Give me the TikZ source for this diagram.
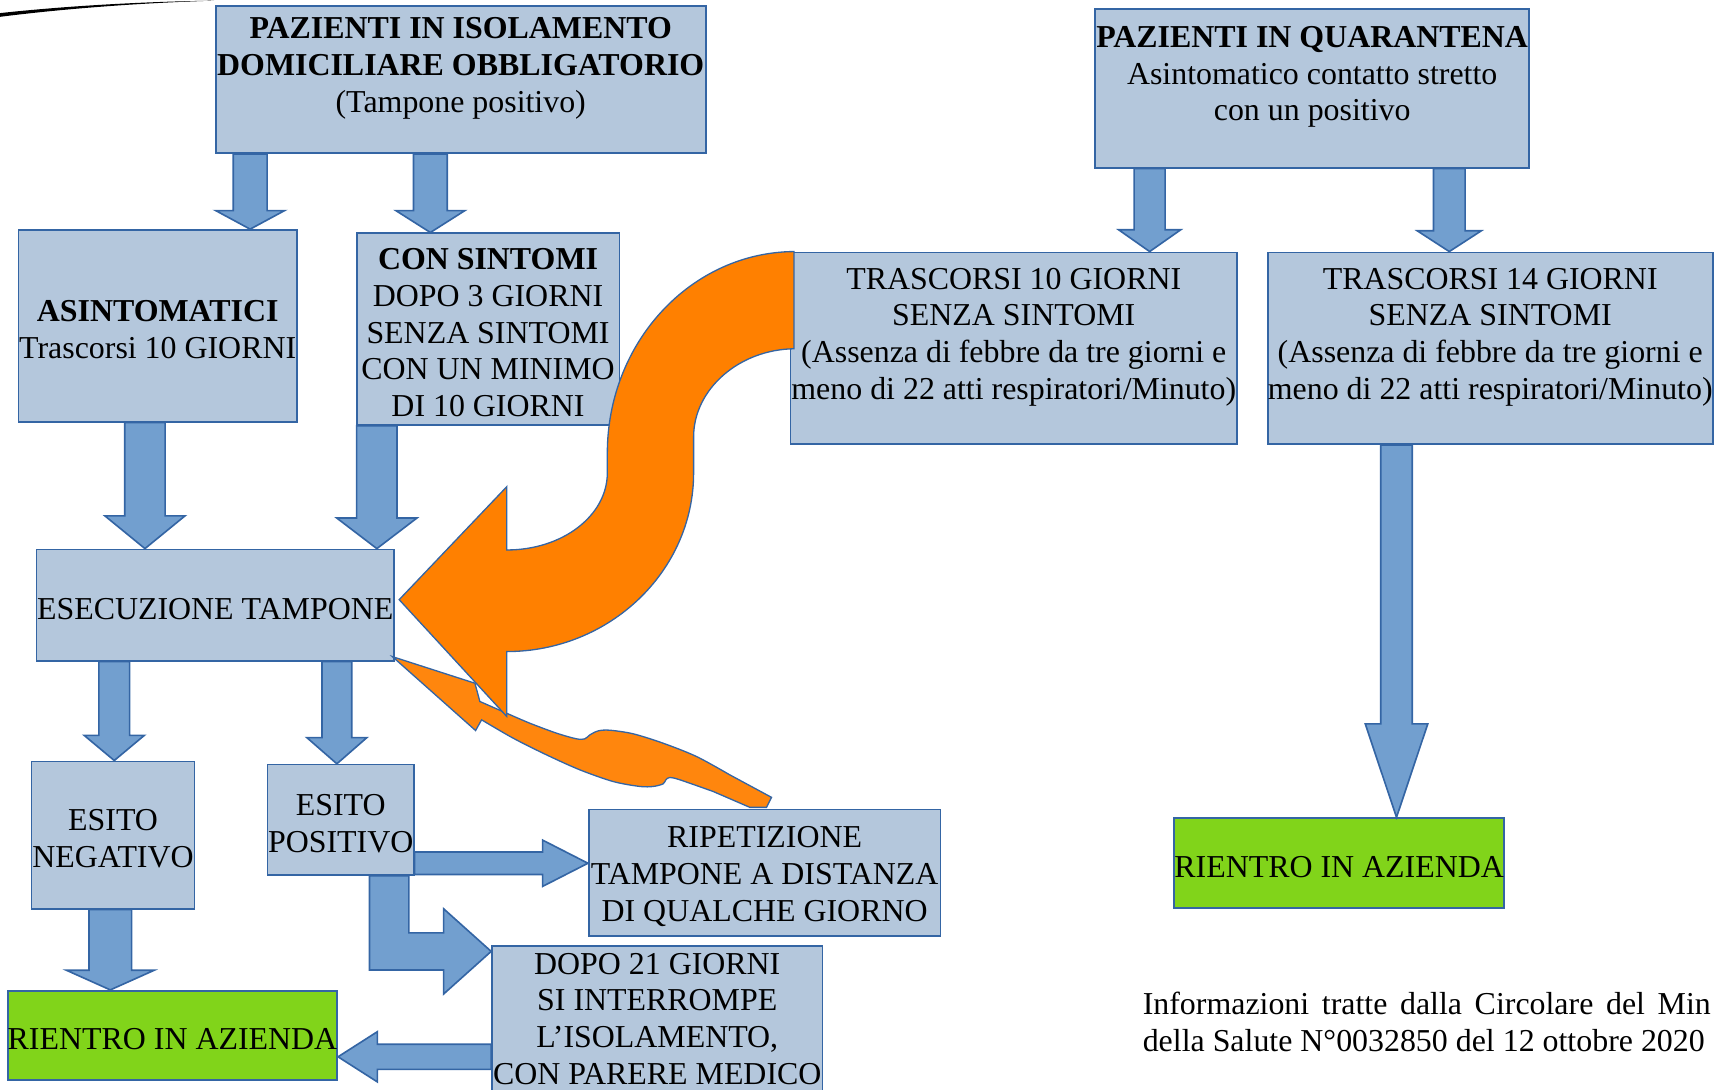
\documentclass[tikz,border=0pt]{standalone}
\usepackage{fontspec}
\setmainfont{Liberation Serif}
\usetikzlibrary{calc}

\definecolor{boxfill}{HTML}{B4C7DC}
\definecolor{boxline}{HTML}{3465A4}
\definecolor{arrowfill}{HTML}{729FCF}
\definecolor{okgreen}{HTML}{81D41A}
\definecolor{curlorange}{HTML}{FF8000}
\definecolor{backorange}{HTML}{FF860D}

\newcommand{\tstrut}{\rule{0pt}{26pt}}

% block arrows: from, to, half shaft, half head, head length
\newcommand{\blkdown}[5]{%
  \draw[blkarrow] let \p1=#1, \p2=#2 in
    (\x1-#3,\y1) -- (\x1-#3,\y2+#5) -- (\x1-#4,\y2+#5) -- (\x2,\y2)
    -- (\x1+#4,\y2+#5) -- (\x1+#3,\y2+#5) -- (\x1+#3,\y1) -- cycle;}
\newcommand{\blkright}[5]{%
  \draw[blkarrow] let \p1=#1, \p2=#2 in
    (\x1,\y1-#3) -- (\x2-#5,\y1-#3) -- (\x2-#5,\y1-#4) -- (\x2,\y2)
    -- (\x2-#5,\y1+#4) -- (\x2-#5,\y1+#3) -- (\x1,\y1+#3) -- cycle;}
\newcommand{\blkleft}[5]{%
  \draw[blkarrow] let \p1=#1, \p2=#2 in
    (\x1,\y1-#3) -- (\x2+#5,\y1-#3) -- (\x2+#5,\y1-#4) -- (\x2,\y2)
    -- (\x2+#5,\y1+#4) -- (\x2+#5,\y1+#3) -- (\x1,\y1+#3) -- cycle;}

\begin{document}
\begin{tikzpicture}[x=1pt,y=-1pt,
  box/.style={draw=boxline,fill=boxfill,line width=1.5pt,inner sep=0pt,align=center,
    font=\fontsize{29.2}{33.6}\selectfont},
  rientro/.style={box,fill=okgreen},
  blkarrow/.style={draw=boxline,fill=arrowfill,line width=1.5pt},
  curl/.style={draw=boxline,fill=curlorange,line width=1.2pt,line join=miter}]

\clip (0,0) rectangle (1571,997.7);

\fill (0,12) .. controls (60,5.5) and (130,1.5) .. (196,0.6)
  .. controls (130,2.6) and (60,7.8) .. (0,15.4) -- cycle;

\node[box,minimum width=448.5,minimum height=135] (isol) at (421.8,72.8)
  {\tstrut\textbf{PAZIENTI IN ISOLAMENTO}\\ \textbf{DOMICILIARE OBBLIGATORIO}\\ (Tampone positivo)\\ ~};
\node[box,minimum width=397.4,minimum height=145.3] (quar) at (1201.3,80.9)
  {\tstrut\textbf{PAZIENTI IN QUARANTENA}\\ Asintomatico contatto stretto\\ con un positivo\\ ~};

\node[box,minimum width=255,minimum height=175.5] (asin) at (144.4,298.3)
  {\tstrut\textbf{ASINTOMATICI}\\ Trascorsi 10 GIORNI};
\node[box,minimum width=240.5,minimum height=175.4] (consin) at (446.8,301.3)
  {\tstrut\textbf{CON SINTOMI}\\ DOPO 3 GIORNI\\ SENZA SINTOMI\\ CON UN MINIMO\\ DI 10 GIORNI};
\node[box,minimum width=409,minimum height=175.7] (tr10) at (928.1,318.9)
  {\tstrut TRASCORSI 10 GIORNI\\ SENZA SINTOMI\\ (Assenza di febbre da tre giorni e\\ meno di 22 atti respiratori/Minuto)\\ ~};
\node[box,minimum width=407.4,minimum height=175.7] (tr14) [right of=tr10,node distance=436.2pt]
  {\tstrut TRASCORSI 14 GIORNI\\ SENZA SINTOMI\\ (Assenza di febbre da tre giorni e\\ meno di 22 atti respiratori/Minuto)\\ ~};

\node[box,minimum width=327.4,minimum height=102] (esec) at (197,554) {\tstrut ESECUZIONE TAMPONE};
\node[box,minimum width=149,minimum height=135] (neg) at (103.5,764.5) {\tstrut ESITO\\ NEGATIVO};
\node[box,minimum width=133.8,minimum height=101] (pos) at (311.9,750.5) {\tstrut ESITO\\ POSITIVO};
\node[box,minimum width=322,minimum height=116] (rip) at (700,799)
  {\tstrut RIPETIZIONE\\ TAMPONE A DISTANZA\\ DI QUALCHE GIORNO};
\node[box,minimum width=302.6,minimum height=133.5] (dopo) at (601.7,932.7)
  {DOPO 21 GIORNI\\ SI INTERROMPE\\ L’ISOLAMENTO,\\ CON PARERE MEDICO};

\node[rientro,minimum width=301.4,minimum height=82] (rientroA) at (157.9,948) {\tstrut RIENTRO IN AZIENDA};
\node[rientro,minimum width=302,minimum height=82.4] (rientroB) at (1226,790.2) {\tstrut RIENTRO IN AZIENDA};

\node[anchor=west,align=left,inner sep=0pt,font=\fontsize{29.2}{33.5}\selectfont] (fonte) at (1046,935.6)
  {\makebox[520pt][s]{Informazioni tratte dalla Circolare del Min}\\
   della Salute N°0032850 del 12 ottobre 2020};

% blue block arrows
\blkdown{(229,0 |- isol.south)}{(229,0 |- asin.north)}{15.5pt}{31.5pt}{17pt}
\blkdown{(394,0 |- isol.south)}{(394,0 |- consin.north)}{15.5pt}{31.5pt}{20pt}
\blkdown{(1052.5,0 |- quar.south)}{(1052.5,0 |- tr10.north)}{14.2pt}{28.5pt}{20pt}
\blkdown{(1326.8,0 |- quar.south)}{(1326.8,0 |- tr14.north)}{14.5pt}{29.3pt}{19pt}
\blkdown{(132.7,0 |- asin.south)}{(132.7,0 |- esec.north)}{18.5pt}{36.7pt}{30pt}
\blkdown{(345,0 |- consin.south)}{(345,0 |- esec.north)}{18.5pt}{36.7pt}{28pt}
\blkdown{(104.6,0 |- esec.south)}{(104.6,0 |- neg.north)}{14.1pt}{27.5pt}{23pt}
\blkdown{(308.4,0 |- esec.south)}{(308.4,0 |- pos.north)}{13.6pt}{27.5pt}{24pt}
\blkdown{(101,0 |- neg.south)}{(101,0 |- rientroA.north)}{19.5pt}{40.2pt}{18pt}
\blkdown{(1278.5,0 |- tr14.south)}{(1278.5,0 |- rientroB.north)}{14.4pt}{28.6pt}{85.5pt}
\blkright{(pos.east |- 0,790.3)}{(rip.west |- 0,790.3)}{10.3pt}{21.2pt}{41.5pt}
\blkleft{(dopo.west |- 0,967.5)}{(rientroA.east |- 0,967.5)}{11.5pt}{23pt}{36pt}
\draw[blkarrow] let \p1=(356.3,0 |- pos.south), \p2=(dopo.west |- 0,871) in
  (\x1-18pt,\y1) -- (\x1-18pt,\y2-17pt) -- (\x2-43.5pt,\y2-17pt) -- (\x2-43.5pt,\y2-39pt)
  -- (\x2,\y2) -- (\x2-43.5pt,\y2+39pt) -- (\x2-43.5pt,\y2+17pt) -- (\x1+18pt,\y2+17pt)
  -- (\x1+18pt,\y1) -- cycle;

% orange arrow back from the repeated swab
\draw[curl,fill=backorange] ($(esec.south east)+(-2.2,-4.6)$) -- (434.8,625.5) -- (439.3,642.2)
  -- plot[smooth,tension=0.5] coordinates {(439.3,642.2) (463.7,652.9) (485.1,662.1) (509.5,671.2)
     (527.8,676.4) (535.4,676.4) (540,672.8) (547.7,669.1) (558.3,668.5) (579.7,671.8)
     (607.1,680.4) (637.7,692.6) (668.2,709.4)}
  -- ($(rip.north)+(6.3,-10.3)$) -- ($(rip.north)+(1.7,-1.1)$) -- ($(rip.north)+(-13.5,-1.1)$)
  -- plot[smooth,tension=0.5] coordinates {(652.9,724.6) (622.4,713.9) (613.2,711.8) (609.6,713.9)
     (607.1,717.6) (598,720) (585.8,720) (561.4,715.5) (530.9,704.8) (500.4,691.1)
     (469.8,675.8) (440.9,659)}
  -- (435.4,668.8) -- cycle;

% orange curl from the quarantine box
\draw[curl] ($(tr10.north west)+(4,0)$)
  .. controls (633,231) and (556,313) .. (556,415) -- (556,433)
  .. controls (556,472) and (515,503.5) .. (464,503.5)
  -- (464,445.5) -- ($(esec.east)+(4,-5)$) -- (464,656) -- (464,596.5)
  .. controls (558,596.5) and (635,523) .. (635,433) -- (635,400)
  .. controls (635,356) and (677,320) .. ($(tr10.north west)+(4,89)$) -- cycle;
\end{tikzpicture}
\end{document}
